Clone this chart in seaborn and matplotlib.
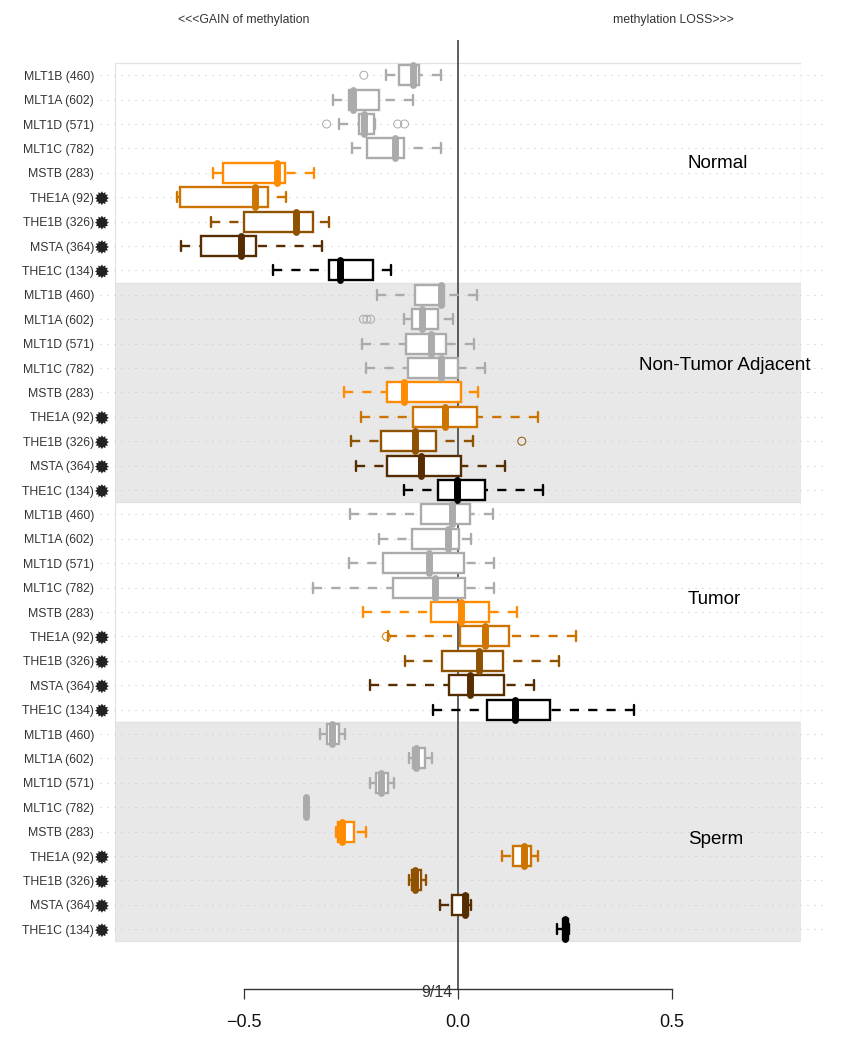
import numpy as np
import pandas as pd
import seaborn as sns
import matplotlib.pyplot as plt
from matplotlib.path import Path

# repeat labels / colours, same nine families in each of the four panels
families = ["MLT1B (460)", "MLT1A (602)", "MLT1D (571)", "MLT1C (782)", "MSTB (283)",
            "THE1A (92)", "THE1B (326)", "MSTA (364)", "THE1C (134)"]
family_colors = ["#ABABAB", "#ABABAB", "#ABABAB", "#ABABAB", "#FF8C00",
                 "#CD7400", "#8F5200", "#552D00", "#000000"]
has_star = [False, False, False, False, False, True, True, True, True]

panel_names = ["Normal", "Non-Tumor Adjacent", "Tumor", "Sperm"]

# five number summaries, row by row (rows 0-8 Normal, 9-17 Adjacent, 18-26 Tumor, 27-35 Sperm)
whisker_low = [-0.168, -0.292, -0.278, -0.248, -0.572, -0.657, -0.576, -0.648, -0.432,
               -0.190, -0.127, -0.224, -0.214, -0.266, -0.227, -0.251, -0.238, -0.126,
               -0.253, -0.184, -0.255, -0.339, -0.223, -0.163, -0.125, -0.205, -0.058,
               -0.322, -0.115, -0.206, -0.354, -0.286, 0.102, -0.115, -0.042, 0.231]
quart_1 = [-0.137, -0.255, -0.232, -0.212, -0.550, -0.650, -0.501, -0.600, -0.301,
           -0.100, -0.107, -0.121, -0.116, -0.165, -0.105, -0.179, -0.165, -0.047,
           -0.087, -0.107, -0.175, -0.151, -0.063, 0.005, -0.037, -0.020, 0.068,
           -0.307, -0.106, -0.192, -0.354, -0.280, 0.129, -0.108, -0.013, 0.245]
medians = [-0.106, -0.245, -0.219, -0.147, -0.424, -0.474, -0.378, -0.508, -0.275,
           -0.039, -0.084, -0.064, -0.040, -0.126, -0.030, -0.100, -0.087, -0.003,
           -0.014, -0.023, -0.068, -0.054, 0.006, 0.063, 0.049, 0.027, 0.134,
           -0.294, -0.097, -0.181, -0.354, -0.272, 0.155, -0.100, 0.017, 0.250]
quart_3 = [-0.092, -0.185, -0.196, -0.127, -0.404, -0.444, -0.339, -0.471, -0.198,
           -0.033, -0.047, -0.029, -0.001, 0.007, 0.044, -0.051, 0.006, 0.063,
           0.028, 0.003, 0.013, 0.017, 0.072, 0.120, 0.105, 0.107, 0.215,
           -0.278, -0.077, -0.164, -0.354, -0.243, 0.171, -0.086, 0.023, 0.256]
whisker_high = [-0.040, -0.105, -0.195, -0.040, -0.336, -0.402, -0.301, -0.318, -0.157,
                0.044, -0.011, 0.037, 0.063, 0.047, 0.186, 0.036, 0.110, 0.198,
                0.082, 0.030, 0.083, 0.085, 0.139, 0.275, 0.237, 0.178, 0.411,
                -0.264, -0.060, -0.150, -0.354, -0.216, 0.187, -0.075, 0.030, 0.260]

# outliers
flier_rows = [0, 2, 2, 2, 10, 10, 10, 15, 23]
flier_values = [-0.220, -0.307, -0.141, -0.125, -0.221, -0.213, -0.204, 0.149, -0.167]

x_ticks = [-0.5, 0.0, 0.5]
x_tick_labels = ["\u22120.5", "0.0", "0.5"]

sns.set_theme(style="white")
plt.rcParams["font.family"] = ["Liberation Sans", "DejaVu Sans"]

n_panels = len(panel_names)
n_rows = len(families) * n_panels
rows = np.arange(n_rows)
row_labels = families * n_panels
row_colors = family_colors * n_panels
row_stars = has_star * n_panels

fig = plt.figure(figsize=(8.48, 10.5), dpi=100)
ax = fig.add_axes([115 / 848, 1 - 989 / 1050, 686 / 848, 949 / 1050])

# panel backgrounds
for i in range(n_panels):
    shade = "#E8E8E8" if i % 2 else "white"
    ax.axhspan(i * 9 - 0.5, i * 9 + 8.5, facecolor=shade, edgecolor="#E2E2E2", lw=0.9, zorder=0)

# dotted row guides run past the panel on both sides
ax.hlines(rows, -0.836, 0.857, colors="#CCCCCC", lw=0.8,
          linestyles=(0, (1, 5.3)), clip_on=False, zorder=1)
ax.axvline(0, color="#333333", lw=1.1, zorder=1.5)

# each box comes from its five number summary, R style dashed whiskers
for i in rows:
    df = pd.DataFrame({
        "value": [whisker_low[i], quart_1[i], medians[i], quart_3[i], whisker_high[i]],
        "row": [i] * 5,
    })
    sns.boxplot(data=df, x="value", y="row", orient="y", native_scale=True, ax=ax,
                color="white", linecolor=row_colors[i], saturation=1, width=0.82,
                whis=(0, 100), linewidth=1.7,
                whiskerprops={"linestyle": (0, (3.88, 3.88))},
                medianprops={"linewidth": 5, "solid_capstyle": "round"},
                boxprops={"facecolor": "white", "zorder": 2})

# R draws the whisker from the cap towards the box, so the dashes start at the cap
for line in ax.lines:
    if line.get_linestyle() == "--":
        line.set_data(line.get_xdata()[::-1], line.get_ydata()[::-1])

# outliers as open circles
fliers = pd.DataFrame({"value": flier_values, "row": flier_rows})
for r, sub in fliers.groupby("row"):
    sns.scatterplot(data=sub, x="value", y="row", ax=ax, marker="o", s=33, legend=False,
                    facecolor="none", edgecolor=row_colors[r], linewidth=0.7, zorder=3)

# the little stars next to the labels
star_marker = Path.unit_regular_star(12, innerCircle=0.72)
stars = pd.DataFrame({"x": -0.832, "row": rows[np.array(row_stars)] + 0.04})
sns.scatterplot(data=stars, x="x", y="row", ax=ax, marker=star_marker, s=100, color="#222222",
                edgecolor="none", linewidth=0, clip_on=False, legend=False, zorder=3)

ax.set_xlim(-343 / 428, 343 / 428)
ax.set_ylim(37.45, -1.443)
ax.set_xlabel("")
ax.set_ylabel("")

ax.set_yticks(rows)
ax.set_yticklabels(row_labels, fontsize=8.8, color="#333333")
ax.tick_params(axis="y", length=0, pad=15)

ax.set_xticks(x_ticks)
ax.set_xticklabels(x_tick_labels, fontsize=13, color="#111111")
ax.tick_params(axis="x", bottom=True, length=7.2, width=0.9, color="#333333", pad=11)

sns.despine(ax=ax, left=True)
ax.spines["bottom"].set_bounds(-0.5, 0.5)
ax.spines["bottom"].set_color("#333333")
ax.spines["bottom"].set_linewidth(1.0)
ax.grid(False)
ax.patch.set_visible(False)

# panel names
ax.text(0.537, 3.6, panel_names[0], fontsize=13.5, va="center", color="black")
ax.text(0.423, 11.88, panel_names[1], fontsize=13.6, va="center", color="black")
ax.text(0.537, 21.5, panel_names[2], fontsize=13.5, va="center", color="black")
ax.text(0.537, 31.34, panel_names[3], fontsize=13.5, va="center", color="black")

ax.text(-0.654, -2.26, "<<<GAIN of methylation", fontsize=8.8, va="center", color="#333333")
ax.text(0.362, -2.26, "methylation LOSS>>>", fontsize=8.8, va="center", color="#333333")
ax.text(-0.086, 37.6, "9/14", fontsize=11.5, va="center", color="#333333")

fig.savefig("out.png", dpi=100)
